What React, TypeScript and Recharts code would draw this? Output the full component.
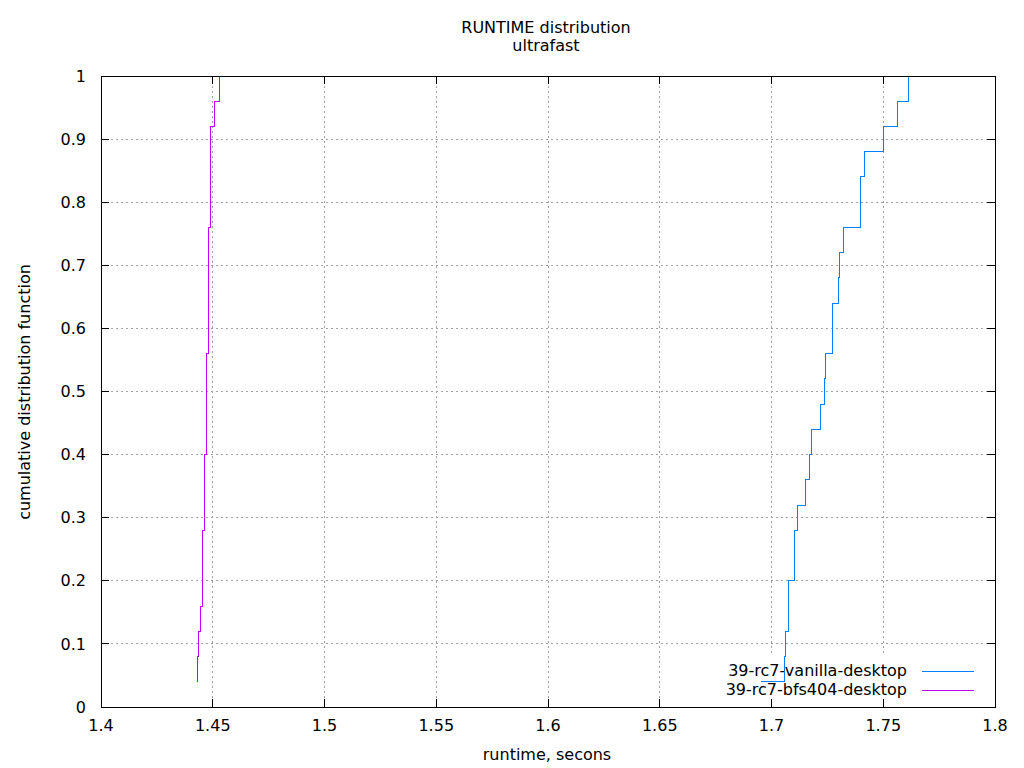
import React from 'react';
import { LineChart, Line, XAxis, YAxis, CartesianGrid } from 'recharts';

// cumulative distribution levels (25 samples)
const cdfLevels = [
  0.04, 0.08, 0.12, 0.16, 0.2, 0.24, 0.28, 0.32, 0.36, 0.4,
  0.44, 0.48, 0.52, 0.56, 0.6, 0.64, 0.68, 0.72, 0.76, 0.8,
  0.84, 0.88, 0.92, 0.96, 1.0,
];

// sorted runtimes (seconds) per kernel
const vanillaRuntimes = [
  1.6955, 1.7056, 1.7064, 1.7076, 1.7078, 1.7101, 1.7101, 1.7116, 1.715, 1.7168,
  1.7177, 1.7219, 1.7238, 1.7241, 1.7271, 1.7275, 1.7298, 1.7306, 1.7322, 1.7396,
  1.74, 1.7414, 1.7503, 1.7562, 1.7615,
];
const bfsRuntimes = [
  1.443, 1.443, 1.4438, 1.4443, 1.4452, 1.4456, 1.4456, 1.4461, 1.4465, 1.4465,
  1.447, 1.447, 1.4474, 1.4474, 1.4479, 1.4479, 1.4483, 1.4483, 1.4483, 1.4488,
  1.4488, 1.4492, 1.4492, 1.4506, 1.4528,
];

const xTicks = [1.4, 1.45, 1.5, 1.55, 1.6, 1.65, 1.7, 1.75, 1.8];
const yTicks = [0, 0.1, 0.2, 0.3, 0.4, 0.5, 0.6, 0.7, 0.8, 0.9, 1];

const seriesNames = ['39-rc7-vanilla-desktop', '39-rc7-bfs404-desktop'];
const seriesColors = ['#0080ff', '#c000ff'];
const titleLines = ['RUNTIME distribution', 'ultrafast'];
const xLabel = 'runtime, secons';
const yLabel = 'cumulative distribution function';

const vanillaData = vanillaRuntimes.map((x, i) => ({ x, y: cdfLevels[i] }));
const bfsData = bfsRuntimes.map((x, i) => ({ x, y: cdfLevels[i] }));

const FONT = 'DejaVu Sans';
const textStyle = { fontFamily: FONT, fontSize: 16, fill: '#000' };

function Decorations() {
  return (
    <g>
      <text x={546} y={33} textAnchor="middle" style={textStyle}>{titleLines[0]}</text>
      <text x={546} y={51} textAnchor="middle" style={textStyle}>{titleLines[1]}</text>
      <text x={547} y={759.5} textAnchor="middle" style={textStyle}>{xLabel}</text>
      <text
        x={30}
        y={392}
        textAnchor="middle"
        transform="rotate(-90 30 392)"
        style={textStyle}
      >
        {yLabel}
      </text>
      <rect x={101} y={76} width={894} height={631} fill="none" stroke="#000" strokeWidth={1} />
      <rect x={718} y={656} width={270} height={43} fill="#ffffff" />
      {seriesNames.map((name, i) => (
        <g key={name}>
          <text x={907} y={676 + i * 19.3} textAnchor="end" style={textStyle}>{name}</text>
          <line
            x1={922}
            x2={974}
            y1={671 + i * 19.3}
            y2={671 + i * 19.3}
            stroke={seriesColors[i]}
            strokeWidth={1}
          />
        </g>
      ))}
    </g>
  );
}

const tickStyle = { fill: '#000', fontSize: 16, fontFamily: FONT };
const blankLabel = () => '';

export default function App() {
  return (
    <div style={{ position: 'absolute', left: 0, top: 0, background: '#fff' }}>
      <LineChart
        width={1024}
        height={768}
        margin={{ top: 46, right: 0, bottom: 0, left: 0 }}
        style={{ shapeRendering: 'crispEdges' }}
      >
        <CartesianGrid stroke="#a0a0a0" strokeDasharray="2 3" />
        <Decorations />
        <XAxis
          type="number"
          dataKey="x"
          domain={[1.4, 1.8]}
          ticks={xTicks}
          allowDataOverflow
          height={61}
          tickSize={-8}
          tickMargin={21}
          tick={tickStyle}
          axisLine={{ stroke: '#000' }}
          tickLine={{ stroke: '#000' }}
          interval={0}
        />
        <XAxis
          xAxisId="top"
          orientation="top"
          type="number"
          dataKey="x"
          domain={[1.4, 1.8]}
          ticks={xTicks}
          height={30}
          tickSize={-8}
          tickFormatter={blankLabel}
          axisLine={{ stroke: '#000' }}
          tickLine={{ stroke: '#000' }}
        />
        <YAxis
          type="number"
          dataKey="y"
          domain={[0, 1]}
          ticks={yTicks}
          allowDataOverflow
          width={101}
          tickSize={-8}
          tickMargin={23}
          tick={tickStyle}
          axisLine={{ stroke: '#000' }}
          tickLine={{ stroke: '#000' }}
          interval={0}
        />
        <YAxis
          yAxisId="right"
          orientation="right"
          type="number"
          dataKey="y"
          domain={[0, 1]}
          ticks={yTicks}
          width={29}
          tickSize={-8}
          tickFormatter={blankLabel}
          axisLine={{ stroke: '#000' }}
          tickLine={{ stroke: '#000' }}
        />
        <Line
          data={vanillaData}
          dataKey="y"
          name={seriesNames[0]}
          type="stepAfter"
          stroke={seriesColors[0]}
          strokeWidth={1}
          dot={false}
          activeDot={false}
          isAnimationActive={false}
        />
        <Line
          data={bfsData}
          dataKey="y"
          name={seriesNames[1]}
          xAxisId="top"
          yAxisId="right"
          type="stepAfter"
          stroke={seriesColors[1]}
          strokeWidth={1}
          dot={false}
          activeDot={false}
          isAnimationActive={false}
        />
      </LineChart>
    </div>
  );
}
